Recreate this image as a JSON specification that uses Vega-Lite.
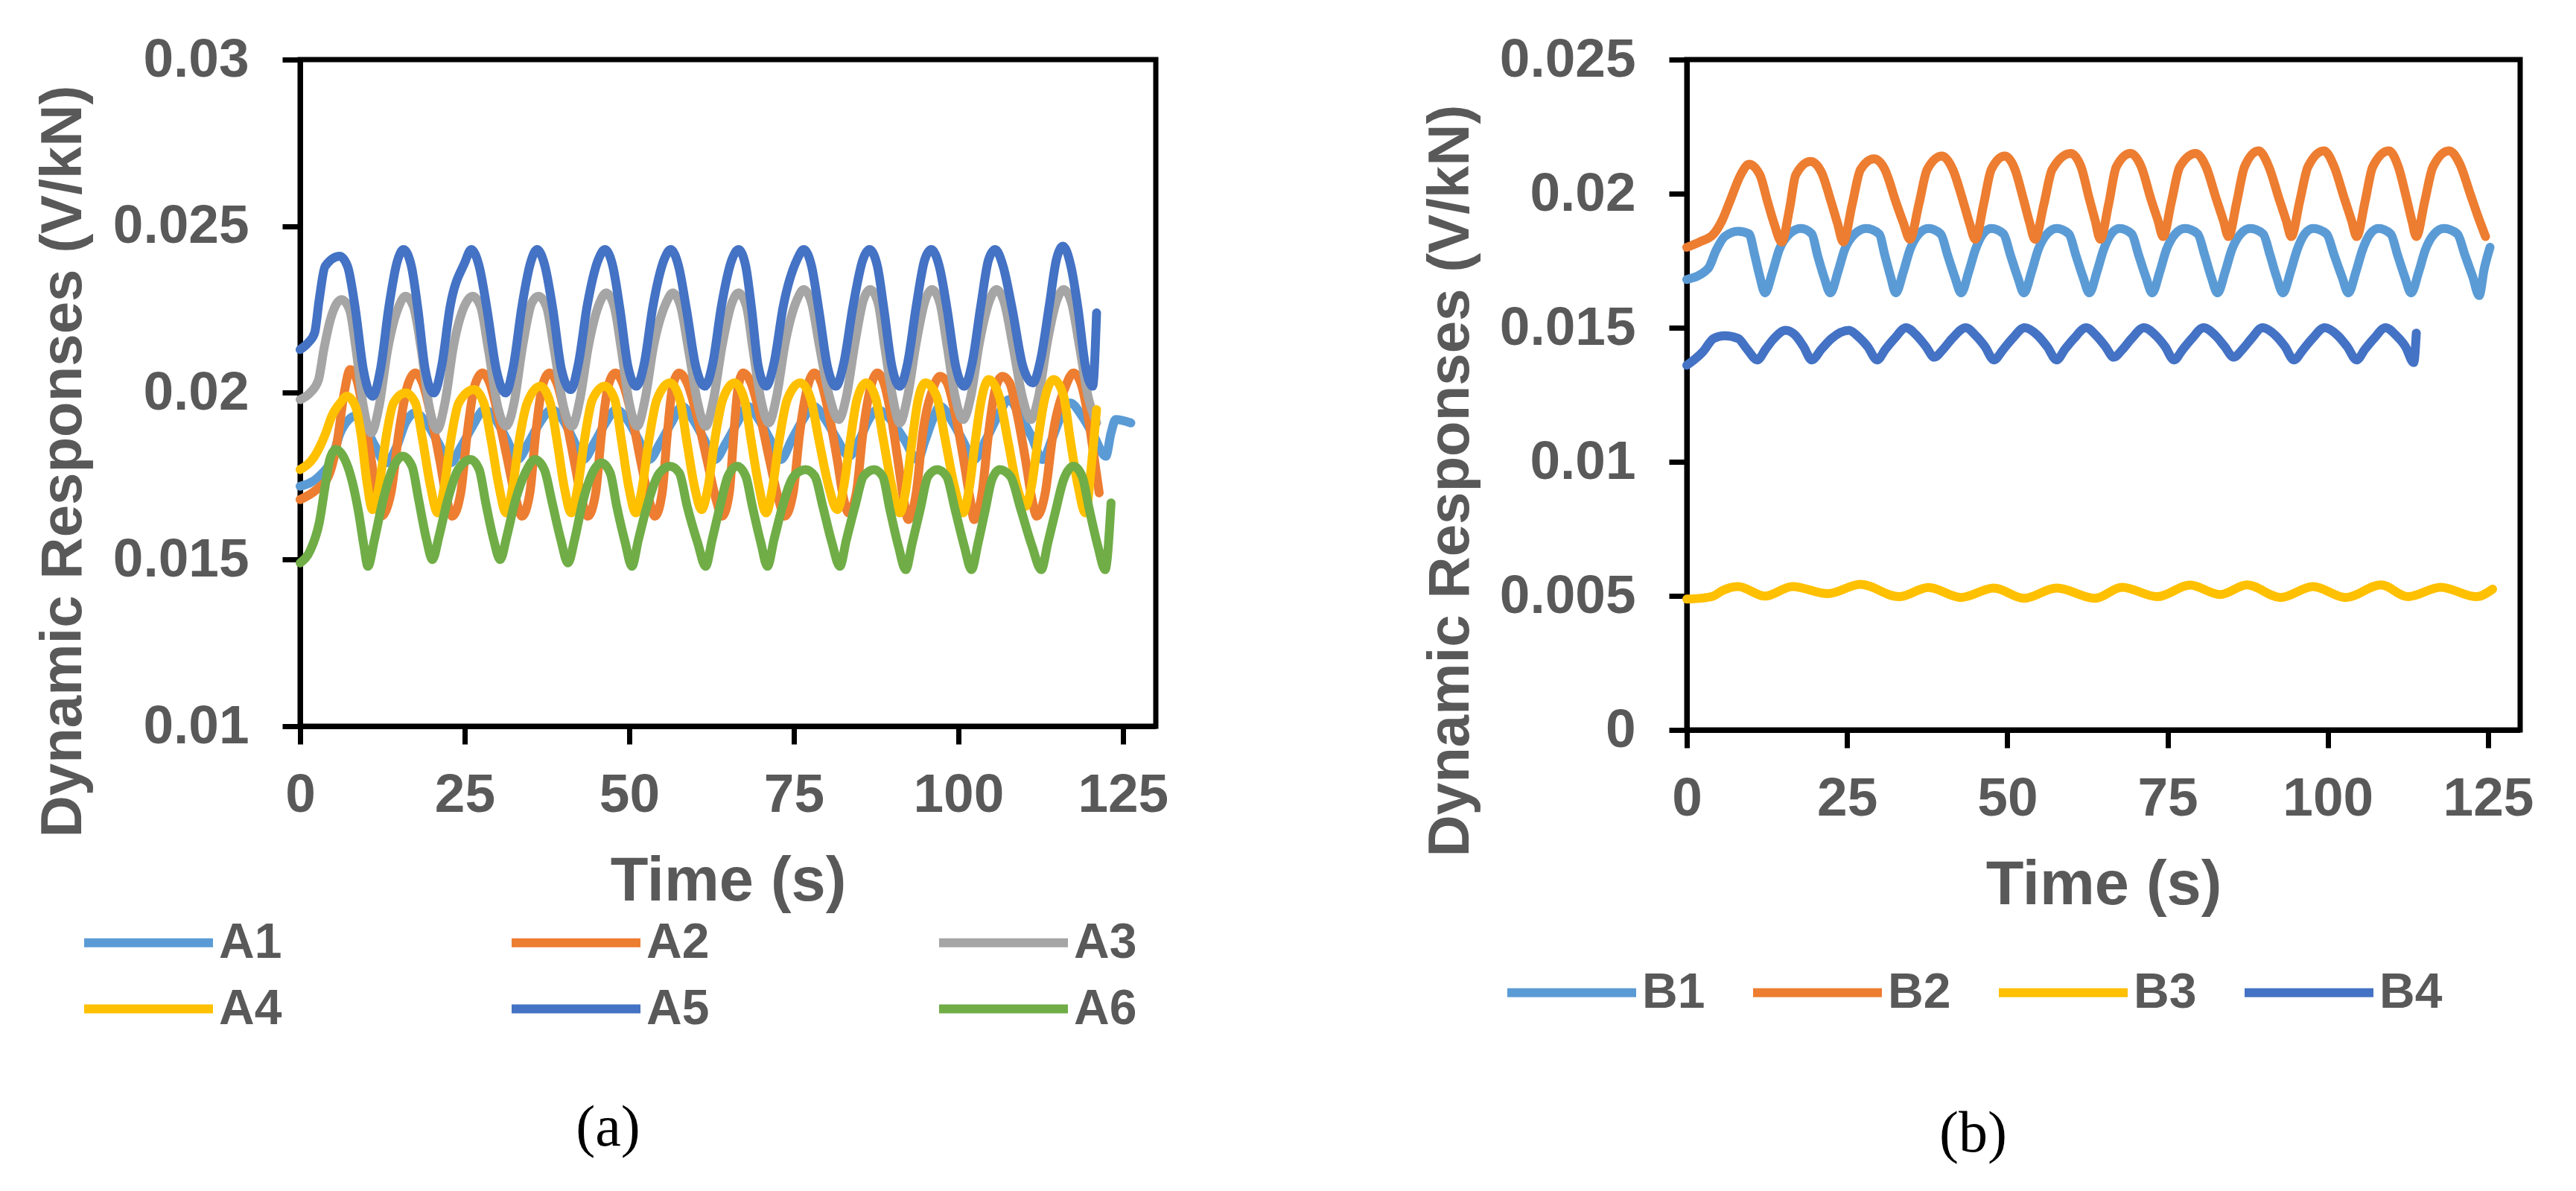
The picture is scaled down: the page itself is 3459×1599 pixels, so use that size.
{
  "$schema": "https://vega.github.io/schema/vega-lite/v6.json",
  "background": "white",
  "padding": {"left": 42, "top": 40, "right": 0, "bottom": 0},
  "spacing": 332,
  "datasets": {
    "A": [
      {"s":"A1","t":0,"v":0.0172},{"s":"A1","t":2.9,"v":0.0175},{"s":"A1","t":4.8,"v":0.0180},{"s":"A1","t":6.1,"v":0.0188},{"s":"A1","t":7.4,"v":0.0192},{"s":"A1","t":8.2,"v":0.0193},{"s":"A1","t":9.8,"v":0.0190},{"s":"A1","t":11.4,"v":0.0184},{"s":"A1","t":13.0,"v":0.0179},
      {"s":"A1","t":14.7,"v":0.0184},{"s":"A1","t":16.0,"v":0.0191},{"s":"A1","t":17.5,"v":0.0194},{"s":"A1","t":19.2,"v":0.0191},{"s":"A1","t":21.0,"v":0.0185},{"s":"A1","t":22.8,"v":0.0179},
      {"s":"A1","t":24.5,"v":0.0184},{"s":"A1","t":26.2,"v":0.0190},{"s":"A1","t":28.0,"v":0.0195},{"s":"A1","t":29.7,"v":0.0192},{"s":"A1","t":31.4,"v":0.0186},{"s":"A1","t":33.0,"v":0.0180},
      {"s":"A1","t":34.7,"v":0.0185},{"s":"A1","t":36.4,"v":0.0191},{"s":"A1","t":38.2,"v":0.0195},{"s":"A1","t":39.9,"v":0.0192},{"s":"A1","t":41.5,"v":0.0186},{"s":"A1","t":43.0,"v":0.0180},
      {"s":"A1","t":44.7,"v":0.0185},{"s":"A1","t":46.4,"v":0.0191},{"s":"A1","t":48.0,"v":0.0195},{"s":"A1","t":49.7,"v":0.0192},{"s":"A1","t":51.4,"v":0.0186},{"s":"A1","t":53.0,"v":0.0180},
      {"s":"A1","t":54.7,"v":0.0185},{"s":"A1","t":56.4,"v":0.0191},{"s":"A1","t":58.0,"v":0.0196},{"s":"A1","t":59.7,"v":0.0192},{"s":"A1","t":61.4,"v":0.0186},{"s":"A1","t":63.0,"v":0.0180},
      {"s":"A1","t":64.7,"v":0.0185},{"s":"A1","t":66.4,"v":0.0191},{"s":"A1","t":68.0,"v":0.0196},{"s":"A1","t":69.7,"v":0.0192},{"s":"A1","t":71.4,"v":0.0186},{"s":"A1","t":73.0,"v":0.0180},
      {"s":"A1","t":74.7,"v":0.0186},{"s":"A1","t":76.4,"v":0.0192},{"s":"A1","t":78.0,"v":0.0196},{"s":"A1","t":79.8,"v":0.0192},{"s":"A1","t":81.6,"v":0.0186},{"s":"A1","t":83.4,"v":0.0181},
      {"s":"A1","t":85.0,"v":0.0186},{"s":"A1","t":86.4,"v":0.0192},{"s":"A1","t":87.7,"v":0.0195},{"s":"A1","t":89.7,"v":0.0192},{"s":"A1","t":91.8,"v":0.0186},{"s":"A1","t":93.8,"v":0.0180},
      {"s":"A1","t":95.0,"v":0.0186},{"s":"A1","t":96.1,"v":0.0192},{"s":"A1","t":97.2,"v":0.0196},{"s":"A1","t":98.9,"v":0.0192},{"s":"A1","t":100.6,"v":0.0186},{"s":"A1","t":102.4,"v":0.0180},
      {"s":"A1","t":104.2,"v":0.0186},{"s":"A1","t":106.0,"v":0.0193},{"s":"A1","t":107.7,"v":0.0198},{"s":"A1","t":109.4,"v":0.0193},{"s":"A1","t":111.1,"v":0.0187},{"s":"A1","t":112.8,"v":0.0180},
      {"s":"A1","t":114.2,"v":0.0186},{"s":"A1","t":115.6,"v":0.0193},{"s":"A1","t":117.0,"v":0.0197},{"s":"A1","t":118.8,"v":0.0193},{"s":"A1","t":120.6,"v":0.0187},{"s":"A1","t":122.4,"v":0.0181},
      {"s":"A1","t":123.2,"v":0.0188},{"s":"A1","t":123.9,"v":0.0192},{"s":"A1","t":126.2,"v":0.0191},

      {"s":"A2","t":0,"v":0.0168},{"s":"A2","t":2.5,"v":0.0171},{"s":"A2","t":4.3,"v":0.0175},{"s":"A2","t":5.6,"v":0.0185},{"s":"A2","t":6.7,"v":0.0200},{"s":"A2","t":7.6,"v":0.0207},{"s":"A2","t":8.6,"v":0.0204},{"s":"A2","t":9.7,"v":0.0193},{"s":"A2","t":10.8,"v":0.0180},{"s":"A2","t":11.6,"v":0.0169},{"s":"A2","t":12.3,"v":0.0163},
      {"s":"A2","t":13.8,"v":0.0170},{"s":"A2","t":15.0,"v":0.0188},{"s":"A2","t":16.3,"v":0.0202},{"s":"A2","t":17.5,"v":0.0206},{"s":"A2","t":18.6,"v":0.0203},{"s":"A2","t":19.9,"v":0.0193},{"s":"A2","t":21.2,"v":0.0180},{"s":"A2","t":22.3,"v":0.0168},{"s":"A2","t":23.1,"v":0.0163},
      {"s":"A2","t":24.4,"v":0.0170},{"s":"A2","t":25.4,"v":0.0188},{"s":"A2","t":26.5,"v":0.0202},{"s":"A2","t":27.7,"v":0.0206},{"s":"A2","t":28.8,"v":0.0203},{"s":"A2","t":30.1,"v":0.0193},{"s":"A2","t":31.5,"v":0.0180},{"s":"A2","t":32.8,"v":0.0168},{"s":"A2","t":33.7,"v":0.0163},
      {"s":"A2","t":34.9,"v":0.0170},{"s":"A2","t":35.8,"v":0.0188},{"s":"A2","t":36.8,"v":0.0202},{"s":"A2","t":37.9,"v":0.0206},{"s":"A2","t":39.0,"v":0.0203},{"s":"A2","t":40.3,"v":0.0193},{"s":"A2","t":41.6,"v":0.0180},{"s":"A2","t":42.8,"v":0.0168},{"s":"A2","t":43.7,"v":0.0163},
      {"s":"A2","t":44.9,"v":0.0170},{"s":"A2","t":45.8,"v":0.0188},{"s":"A2","t":46.8,"v":0.0202},{"s":"A2","t":47.9,"v":0.0206},{"s":"A2","t":49.0,"v":0.0203},{"s":"A2","t":50.4,"v":0.0193},{"s":"A2","t":51.7,"v":0.0180},{"s":"A2","t":53.0,"v":0.0168},{"s":"A2","t":53.9,"v":0.0163},
      {"s":"A2","t":55.0,"v":0.0170},{"s":"A2","t":55.8,"v":0.0188},{"s":"A2","t":56.6,"v":0.0202},{"s":"A2","t":57.6,"v":0.0206},{"s":"A2","t":58.8,"v":0.0203},{"s":"A2","t":60.3,"v":0.0193},{"s":"A2","t":61.8,"v":0.0180},{"s":"A2","t":63.2,"v":0.0168},{"s":"A2","t":64.1,"v":0.0163},
      {"s":"A2","t":65.2,"v":0.0170},{"s":"A2","t":65.9,"v":0.0188},{"s":"A2","t":66.5,"v":0.0201},{"s":"A2","t":67.3,"v":0.0206},{"s":"A2","t":68.5,"v":0.0203},{"s":"A2","t":69.9,"v":0.0193},{"s":"A2","t":71.3,"v":0.0180},{"s":"A2","t":72.7,"v":0.0168},{"s":"A2","t":73.6,"v":0.0163},
      {"s":"A2","t":74.9,"v":0.0170},{"s":"A2","t":75.9,"v":0.0188},{"s":"A2","t":77.0,"v":0.0201},{"s":"A2","t":78.1,"v":0.0206},{"s":"A2","t":79.2,"v":0.0203},{"s":"A2","t":80.4,"v":0.0193},{"s":"A2","t":81.6,"v":0.0180},{"s":"A2","t":82.6,"v":0.0168},{"s":"A2","t":83.3,"v":0.0164},
      {"s":"A2","t":84.5,"v":0.0170},{"s":"A2","t":85.5,"v":0.0188},{"s":"A2","t":86.6,"v":0.0201},{"s":"A2","t":87.7,"v":0.0206},{"s":"A2","t":88.7,"v":0.0203},{"s":"A2","t":89.8,"v":0.0193},{"s":"A2","t":90.8,"v":0.0180},{"s":"A2","t":91.7,"v":0.0168},{"s":"A2","t":92.4,"v":0.0162},
      {"s":"A2","t":93.6,"v":0.0170},{"s":"A2","t":94.6,"v":0.0188},{"s":"A2","t":96.1,"v":0.0201},{"s":"A2","t":97.2,"v":0.0205},{"s":"A2","t":98.3,"v":0.0203},{"s":"A2","t":99.6,"v":0.0193},{"s":"A2","t":100.8,"v":0.0180},{"s":"A2","t":101.8,"v":0.0168},{"s":"A2","t":102.4,"v":0.0162},
      {"s":"A2","t":103.6,"v":0.0170},{"s":"A2","t":104.6,"v":0.0188},{"s":"A2","t":105.6,"v":0.0201},{"s":"A2","t":106.7,"v":0.0205},{"s":"A2","t":107.8,"v":0.0203},{"s":"A2","t":109.0,"v":0.0193},{"s":"A2","t":110.2,"v":0.0180},{"s":"A2","t":111.2,"v":0.0168},{"s":"A2","t":111.9,"v":0.0163},
      {"s":"A2","t":113.2,"v":0.0170},{"s":"A2","t":114.4,"v":0.0188},{"s":"A2","t":116.3,"v":0.0202},{"s":"A2","t":117.5,"v":0.0206},{"s":"A2","t":118.6,"v":0.0203},{"s":"A2","t":119.7,"v":0.0193},{"s":"A2","t":120.6,"v":0.0181},{"s":"A2","t":121.4,"v":0.0170},

      {"s":"A3","t":0,"v":0.0198},{"s":"A3","t":1.5,"v":0.0200},{"s":"A3","t":2.8,"v":0.0204},{"s":"A3","t":3.6,"v":0.0213},{"s":"A3","t":4.6,"v":0.0222},{"s":"A3","t":6.3,"v":0.0228},{"s":"A3","t":7.5,"v":0.0225},{"s":"A3","t":8.5,"v":0.0213},{"s":"A3","t":9.6,"v":0.0196},{"s":"A3","t":10.8,"v":0.0188},
      {"s":"A3","t":12.0,"v":0.0196},{"s":"A3","t":13.3,"v":0.0213},{"s":"A3","t":15.0,"v":0.0226},{"s":"A3","t":16.0,"v":0.0229},{"s":"A3","t":17.2,"v":0.0226},{"s":"A3","t":18.4,"v":0.0213},{"s":"A3","t":19.6,"v":0.0196},{"s":"A3","t":20.8,"v":0.0189},
      {"s":"A3","t":22.0,"v":0.0197},{"s":"A3","t":23.3,"v":0.0214},{"s":"A3","t":25.2,"v":0.0227},{"s":"A3","t":26.2,"v":0.0229},{"s":"A3","t":27.4,"v":0.0226},{"s":"A3","t":28.6,"v":0.0213},{"s":"A3","t":30.0,"v":0.0196},{"s":"A3","t":31.3,"v":0.0190},
      {"s":"A3","t":32.5,"v":0.0197},{"s":"A3","t":33.8,"v":0.0214},{"s":"A3","t":35.2,"v":0.0227},{"s":"A3","t":36.2,"v":0.0229},{"s":"A3","t":37.4,"v":0.0226},{"s":"A3","t":38.6,"v":0.0213},{"s":"A3","t":40.0,"v":0.0196},{"s":"A3","t":41.3,"v":0.0190},
      {"s":"A3","t":42.5,"v":0.0198},{"s":"A3","t":43.8,"v":0.0214},{"s":"A3","t":45.5,"v":0.0227},{"s":"A3","t":46.5,"v":0.0230},{"s":"A3","t":47.7,"v":0.0226},{"s":"A3","t":48.8,"v":0.0213},{"s":"A3","t":50.0,"v":0.0197},{"s":"A3","t":51.2,"v":0.0190},
      {"s":"A3","t":52.4,"v":0.0198},{"s":"A3","t":53.7,"v":0.0214},{"s":"A3","t":55.6,"v":0.0227},{"s":"A3","t":56.6,"v":0.0230},{"s":"A3","t":57.8,"v":0.0226},{"s":"A3","t":59.0,"v":0.0213},{"s":"A3","t":60.4,"v":0.0197},{"s":"A3","t":61.6,"v":0.0190},
      {"s":"A3","t":62.8,"v":0.0198},{"s":"A3","t":64.1,"v":0.0214},{"s":"A3","t":65.6,"v":0.0227},{"s":"A3","t":66.6,"v":0.0230},{"s":"A3","t":67.8,"v":0.0226},{"s":"A3","t":68.8,"v":0.0213},{"s":"A3","t":70.0,"v":0.0198},{"s":"A3","t":71.2,"v":0.0191},
      {"s":"A3","t":72.4,"v":0.0199},{"s":"A3","t":73.7,"v":0.0215},{"s":"A3","t":75.5,"v":0.0228},{"s":"A3","t":76.5,"v":0.0231},{"s":"A3","t":77.7,"v":0.0227},{"s":"A3","t":78.9,"v":0.0214},{"s":"A3","t":80.4,"v":0.0199},{"s":"A3","t":81.8,"v":0.0192},
      {"s":"A3","t":83.0,"v":0.0199},{"s":"A3","t":84.3,"v":0.0215},{"s":"A3","t":85.6,"v":0.0228},{"s":"A3","t":86.6,"v":0.0231},{"s":"A3","t":87.8,"v":0.0227},{"s":"A3","t":88.8,"v":0.0214},{"s":"A3","t":90.0,"v":0.0199},{"s":"A3","t":91.1,"v":0.0191},
      {"s":"A3","t":92.3,"v":0.0199},{"s":"A3","t":93.6,"v":0.0215},{"s":"A3","t":95.0,"v":0.0228},{"s":"A3","t":96.0,"v":0.0231},{"s":"A3","t":97.2,"v":0.0227},{"s":"A3","t":98.3,"v":0.0214},{"s":"A3","t":99.5,"v":0.0199},{"s":"A3","t":100.7,"v":0.0192},
      {"s":"A3","t":101.9,"v":0.0199},{"s":"A3","t":103.2,"v":0.0215},{"s":"A3","t":104.8,"v":0.0228},{"s":"A3","t":105.8,"v":0.0231},{"s":"A3","t":107.0,"v":0.0227},{"s":"A3","t":108.3,"v":0.0214},{"s":"A3","t":109.7,"v":0.0199},{"s":"A3","t":111.0,"v":0.0192},
      {"s":"A3","t":112.2,"v":0.0199},{"s":"A3","t":113.5,"v":0.0215},{"s":"A3","t":115.0,"v":0.0228},{"s":"A3","t":116.0,"v":0.0231},{"s":"A3","t":117.2,"v":0.0227},{"s":"A3","t":118.4,"v":0.0214},{"s":"A3","t":119.7,"v":0.0199},{"s":"A3","t":121.0,"v":0.0191},

      {"s":"A4","t":0,"v":0.0177},{"s":"A4","t":2.2,"v":0.0181},{"s":"A4","t":3.9,"v":0.0188},{"s":"A4","t":4.8,"v":0.0193},{"s":"A4","t":6.1,"v":0.0197},{"s":"A4","t":7.1,"v":0.0199},{"s":"A4","t":8.4,"v":0.0196},{"s":"A4","t":9.3,"v":0.0187},{"s":"A4","t":10.1,"v":0.0174},{"s":"A4","t":11.0,"v":0.0165},
      {"s":"A4","t":12.0,"v":0.0172},{"s":"A4","t":13.0,"v":0.0186},{"s":"A4","t":14.2,"v":0.0197},{"s":"A4","t":16.0,"v":0.0200},{"s":"A4","t":17.5,"v":0.0197},{"s":"A4","t":18.6,"v":0.0186},{"s":"A4","t":19.8,"v":0.0172},{"s":"A4","t":20.9,"v":0.0164},
      {"s":"A4","t":21.9,"v":0.0172},{"s":"A4","t":22.9,"v":0.0186},{"s":"A4","t":24.1,"v":0.0197},{"s":"A4","t":26.4,"v":0.0201},{"s":"A4","t":27.9,"v":0.0197},{"s":"A4","t":29.0,"v":0.0186},{"s":"A4","t":30.2,"v":0.0172},{"s":"A4","t":31.3,"v":0.0164},
      {"s":"A4","t":32.3,"v":0.0172},{"s":"A4","t":33.3,"v":0.0186},{"s":"A4","t":34.5,"v":0.0197},{"s":"A4","t":36.5,"v":0.0202},{"s":"A4","t":38.0,"v":0.0197},{"s":"A4","t":39.0,"v":0.0186},{"s":"A4","t":40.1,"v":0.0172},{"s":"A4","t":41.2,"v":0.0164},
      {"s":"A4","t":42.2,"v":0.0172},{"s":"A4","t":43.2,"v":0.0186},{"s":"A4","t":44.4,"v":0.0198},{"s":"A4","t":46.3,"v":0.0202},{"s":"A4","t":47.8,"v":0.0198},{"s":"A4","t":48.8,"v":0.0186},{"s":"A4","t":49.9,"v":0.0172},{"s":"A4","t":51.0,"v":0.0164},
      {"s":"A4","t":52.0,"v":0.0172},{"s":"A4","t":53.0,"v":0.0186},{"s":"A4","t":54.2,"v":0.0198},{"s":"A4","t":56.2,"v":0.0203},{"s":"A4","t":57.7,"v":0.0198},{"s":"A4","t":58.7,"v":0.0186},{"s":"A4","t":59.9,"v":0.0172},{"s":"A4","t":61.0,"v":0.0165},
      {"s":"A4","t":62.0,"v":0.0172},{"s":"A4","t":63.0,"v":0.0186},{"s":"A4","t":64.2,"v":0.0198},{"s":"A4","t":66.0,"v":0.0203},{"s":"A4","t":67.5,"v":0.0198},{"s":"A4","t":68.5,"v":0.0186},{"s":"A4","t":69.7,"v":0.0172},{"s":"A4","t":70.8,"v":0.0164},
      {"s":"A4","t":71.8,"v":0.0172},{"s":"A4","t":72.8,"v":0.0186},{"s":"A4","t":74.0,"v":0.0198},{"s":"A4","t":76.0,"v":0.0203},{"s":"A4","t":77.6,"v":0.0198},{"s":"A4","t":78.8,"v":0.0186},{"s":"A4","t":80.3,"v":0.0172},{"s":"A4","t":81.6,"v":0.0165},
      {"s":"A4","t":82.6,"v":0.0172},{"s":"A4","t":83.6,"v":0.0186},{"s":"A4","t":84.6,"v":0.0198},{"s":"A4","t":86.0,"v":0.0203},{"s":"A4","t":87.5,"v":0.0198},{"s":"A4","t":88.6,"v":0.0186},{"s":"A4","t":89.9,"v":0.0172},{"s":"A4","t":91.1,"v":0.0164},
      {"s":"A4","t":92.1,"v":0.0172},{"s":"A4","t":93.0,"v":0.0186},{"s":"A4","t":93.9,"v":0.0198},{"s":"A4","t":95.0,"v":0.0203},{"s":"A4","t":96.7,"v":0.0199},{"s":"A4","t":98.0,"v":0.0186},{"s":"A4","t":99.4,"v":0.0172},{"s":"A4","t":100.7,"v":0.0164},
      {"s":"A4","t":101.7,"v":0.0172},{"s":"A4","t":102.6,"v":0.0186},{"s":"A4","t":103.5,"v":0.0198},{"s":"A4","t":104.6,"v":0.0204},{"s":"A4","t":106.2,"v":0.0199},{"s":"A4","t":107.5,"v":0.0186},{"s":"A4","t":108.9,"v":0.0172},{"s":"A4","t":110.2,"v":0.0166},
      {"s":"A4","t":111.2,"v":0.0173},{"s":"A4","t":112.1,"v":0.0186},{"s":"A4","t":113.1,"v":0.0198},{"s":"A4","t":114.5,"v":0.0204},{"s":"A4","t":116.0,"v":0.0199},{"s":"A4","t":117.0,"v":0.0186},{"s":"A4","t":118.2,"v":0.0172},{"s":"A4","t":119.3,"v":0.0164},
      {"s":"A4","t":120.3,"v":0.0180},{"s":"A4","t":121.0,"v":0.0195},

      {"s":"A5","t":0,"v":0.0213},{"s":"A5","t":1.2,"v":0.0215},{"s":"A5","t":2.2,"v":0.0218},{"s":"A5","t":2.9,"v":0.0228},{"s":"A5","t":3.8,"v":0.0238},{"s":"A5","t":6.0,"v":0.0241},{"s":"A5","t":7.2,"v":0.0238},{"s":"A5","t":8.4,"v":0.0225},{"s":"A5","t":9.6,"v":0.0207},{"s":"A5","t":11.0,"v":0.0199},
      {"s":"A5","t":12.2,"v":0.0207},{"s":"A5","t":13.5,"v":0.0226},{"s":"A5","t":14.7,"v":0.0239},{"s":"A5","t":15.7,"v":0.0243},{"s":"A5","t":16.9,"v":0.0238},{"s":"A5","t":17.9,"v":0.0225},{"s":"A5","t":19.0,"v":0.0207},{"s":"A5","t":20.3,"v":0.0200},
      {"s":"A5","t":21.5,"v":0.0208},{"s":"A5","t":22.8,"v":0.0226},{"s":"A5","t":25.0,"v":0.0239},{"s":"A5","t":26.0,"v":0.0243},{"s":"A5","t":27.2,"v":0.0238},{"s":"A5","t":28.4,"v":0.0225},{"s":"A5","t":29.8,"v":0.0207},{"s":"A5","t":31.2,"v":0.0200},
      {"s":"A5","t":32.4,"v":0.0208},{"s":"A5","t":33.7,"v":0.0226},{"s":"A5","t":35.0,"v":0.0239},{"s":"A5","t":36.0,"v":0.0243},{"s":"A5","t":37.2,"v":0.0238},{"s":"A5","t":38.4,"v":0.0225},{"s":"A5","t":39.7,"v":0.0207},{"s":"A5","t":41.1,"v":0.0201},
      {"s":"A5","t":42.3,"v":0.0209},{"s":"A5","t":43.6,"v":0.0226},{"s":"A5","t":45.3,"v":0.0240},{"s":"A5","t":46.3,"v":0.0243},{"s":"A5","t":47.5,"v":0.0238},{"s":"A5","t":48.6,"v":0.0225},{"s":"A5","t":49.8,"v":0.0208},{"s":"A5","t":51.1,"v":0.0202},
      {"s":"A5","t":52.3,"v":0.0209},{"s":"A5","t":53.6,"v":0.0226},{"s":"A5","t":55.3,"v":0.0240},{"s":"A5","t":56.3,"v":0.0243},{"s":"A5","t":57.5,"v":0.0238},{"s":"A5","t":58.7,"v":0.0225},{"s":"A5","t":60.1,"v":0.0208},{"s":"A5","t":61.5,"v":0.0202},
      {"s":"A5","t":62.7,"v":0.0209},{"s":"A5","t":64.0,"v":0.0226},{"s":"A5","t":65.6,"v":0.0240},{"s":"A5","t":66.6,"v":0.0243},{"s":"A5","t":67.7,"v":0.0238},{"s":"A5","t":68.6,"v":0.0225},{"s":"A5","t":69.6,"v":0.0208},{"s":"A5","t":70.8,"v":0.0202},
      {"s":"A5","t":72.0,"v":0.0209},{"s":"A5","t":73.4,"v":0.0226},{"s":"A5","t":75.5,"v":0.0240},{"s":"A5","t":76.5,"v":0.0243},{"s":"A5","t":77.7,"v":0.0238},{"s":"A5","t":78.8,"v":0.0225},{"s":"A5","t":80.1,"v":0.0208},{"s":"A5","t":81.4,"v":0.0202},
      {"s":"A5","t":82.6,"v":0.0209},{"s":"A5","t":84.0,"v":0.0226},{"s":"A5","t":85.5,"v":0.0240},{"s":"A5","t":86.5,"v":0.0243},{"s":"A5","t":87.7,"v":0.0238},{"s":"A5","t":88.7,"v":0.0225},{"s":"A5","t":89.9,"v":0.0208},{"s":"A5","t":91.1,"v":0.0202},
      {"s":"A5","t":92.3,"v":0.0209},{"s":"A5","t":93.6,"v":0.0226},{"s":"A5","t":94.9,"v":0.0240},{"s":"A5","t":95.9,"v":0.0243},{"s":"A5","t":97.1,"v":0.0238},{"s":"A5","t":98.3,"v":0.0225},{"s":"A5","t":99.6,"v":0.0208},{"s":"A5","t":100.9,"v":0.0202},
      {"s":"A5","t":102.1,"v":0.0209},{"s":"A5","t":103.4,"v":0.0226},{"s":"A5","t":104.6,"v":0.0240},{"s":"A5","t":105.6,"v":0.0243},{"s":"A5","t":106.8,"v":0.0238},{"s":"A5","t":108.2,"v":0.0225},{"s":"A5","t":109.8,"v":0.0208},{"s":"A5","t":111.3,"v":0.0203},
      {"s":"A5","t":112.5,"v":0.0210},{"s":"A5","t":113.8,"v":0.0226},{"s":"A5","t":114.9,"v":0.0240},{"s":"A5","t":115.9,"v":0.0244},{"s":"A5","t":117.1,"v":0.0238},{"s":"A5","t":118.2,"v":0.0225},{"s":"A5","t":119.3,"v":0.0208},{"s":"A5","t":120.4,"v":0.0202},
      {"s":"A5","t":121.0,"v":0.0224},

      {"s":"A6","t":0,"v":0.0149},{"s":"A6","t":1.6,"v":0.0153},{"s":"A6","t":2.9,"v":0.0161},{"s":"A6","t":3.8,"v":0.0172},{"s":"A6","t":4.5,"v":0.0180},{"s":"A6","t":5.4,"v":0.0183},{"s":"A6","t":6.8,"v":0.0180},{"s":"A6","t":7.7,"v":0.0175},{"s":"A6","t":8.9,"v":0.0164},{"s":"A6","t":9.7,"v":0.0154},{"s":"A6","t":10.3,"v":0.0148},
      {"s":"A6","t":11.3,"v":0.0156},{"s":"A6","t":12.5,"v":0.0167},{"s":"A6","t":14.0,"v":0.0177},{"s":"A6","t":15.6,"v":0.0181},{"s":"A6","t":17.0,"v":0.0178},{"s":"A6","t":18.0,"v":0.0168},{"s":"A6","t":19.2,"v":0.0156},{"s":"A6","t":20.1,"v":0.0150},
      {"s":"A6","t":21.1,"v":0.0157},{"s":"A6","t":22.3,"v":0.0167},{"s":"A6","t":24.0,"v":0.0177},{"s":"A6","t":25.9,"v":0.0180},{"s":"A6","t":27.2,"v":0.0177},{"s":"A6","t":28.2,"v":0.0167},{"s":"A6","t":29.4,"v":0.0156},{"s":"A6","t":30.4,"v":0.0150},
      {"s":"A6","t":31.4,"v":0.0157},{"s":"A6","t":32.6,"v":0.0167},{"s":"A6","t":34.2,"v":0.0176},{"s":"A6","t":35.7,"v":0.0180},{"s":"A6","t":37.1,"v":0.0177},{"s":"A6","t":38.3,"v":0.0167},{"s":"A6","t":39.6,"v":0.0156},{"s":"A6","t":40.7,"v":0.0149},
      {"s":"A6","t":41.7,"v":0.0156},{"s":"A6","t":42.9,"v":0.0167},{"s":"A6","t":44.4,"v":0.0176},{"s":"A6","t":45.8,"v":0.0179},{"s":"A6","t":47.1,"v":0.0176},{"s":"A6","t":48.1,"v":0.0166},{"s":"A6","t":49.4,"v":0.0155},{"s":"A6","t":50.4,"v":0.0148},
      {"s":"A6","t":51.4,"v":0.0156},{"s":"A6","t":52.7,"v":0.0166},{"s":"A6","t":54.6,"v":0.0176},{"s":"A6","t":56.2,"v":0.0178},{"s":"A6","t":57.6,"v":0.0176},{"s":"A6","t":58.8,"v":0.0166},{"s":"A6","t":60.4,"v":0.0155},{"s":"A6","t":61.6,"v":0.0148},
      {"s":"A6","t":62.6,"v":0.0156},{"s":"A6","t":63.8,"v":0.0166},{"s":"A6","t":65.0,"v":0.0175},{"s":"A6","t":66.4,"v":0.0178},{"s":"A6","t":67.7,"v":0.0175},{"s":"A6","t":68.7,"v":0.0166},{"s":"A6","t":70.0,"v":0.0155},{"s":"A6","t":71.0,"v":0.0148},
      {"s":"A6","t":72.0,"v":0.0156},{"s":"A6","t":73.3,"v":0.0166},{"s":"A6","t":75.0,"v":0.0175},{"s":"A6","t":76.8,"v":0.0177},{"s":"A6","t":78.2,"v":0.0175},{"s":"A6","t":79.4,"v":0.0166},{"s":"A6","t":80.8,"v":0.0155},{"s":"A6","t":82.0,"v":0.0148},
      {"s":"A6","t":83.0,"v":0.0156},{"s":"A6","t":84.3,"v":0.0166},{"s":"A6","t":85.6,"v":0.0175},{"s":"A6","t":87.2,"v":0.0177},{"s":"A6","t":88.5,"v":0.0175},{"s":"A6","t":89.6,"v":0.0165},{"s":"A6","t":90.9,"v":0.0154},{"s":"A6","t":92.0,"v":0.0147},
      {"s":"A6","t":93.0,"v":0.0155},{"s":"A6","t":94.2,"v":0.0165},{"s":"A6","t":95.4,"v":0.0175},{"s":"A6","t":96.8,"v":0.0177},{"s":"A6","t":98.2,"v":0.0175},{"s":"A6","t":99.5,"v":0.0165},{"s":"A6","t":100.9,"v":0.0154},{"s":"A6","t":102.0,"v":0.0147},
      {"s":"A6","t":103.0,"v":0.0155},{"s":"A6","t":104.1,"v":0.0165},{"s":"A6","t":105.1,"v":0.0174},{"s":"A6","t":106.3,"v":0.0177},{"s":"A6","t":107.9,"v":0.0175},{"s":"A6","t":109.5,"v":0.0165},{"s":"A6","t":111.2,"v":0.0154},{"s":"A6","t":112.6,"v":0.0147},
      {"s":"A6","t":113.6,"v":0.0155},{"s":"A6","t":114.7,"v":0.0164},{"s":"A6","t":116.0,"v":0.0174},{"s":"A6","t":117.5,"v":0.0178},{"s":"A6","t":118.8,"v":0.0175},{"s":"A6","t":119.9,"v":0.0165},{"s":"A6","t":121.2,"v":0.0154},{"s":"A6","t":122.3,"v":0.0147},
      {"s":"A6","t":123.2,"v":0.0167}
    ],
    "B": [
      {"s":"B1","t":0,"v":0.0168},{"s":"B1","t":3.3,"v":0.0172},{"s":"B1","t":4.6,"v":0.0179},{"s":"B1","t":5.9,"v":0.0184},{"s":"B1","t":8.0,"v":0.0186},{"s":"B1","t":9.7,"v":0.0185},{"s":"B1","t":10.6,"v":0.0177},{"s":"B1","t":11.4,"v":0.0169},{"s":"B1","t":12.2,"v":0.0163},
      {"s":"B1","t":13.4,"v":0.0171},{"s":"B1","t":14.4,"v":0.0179},{"s":"B1","t":16.0,"v":0.0185},{"s":"B1","t":17.8,"v":0.0187},{"s":"B1","t":19.5,"v":0.0185},{"s":"B1","t":20.4,"v":0.0177},{"s":"B1","t":21.4,"v":0.0169},{"s":"B1","t":22.4,"v":0.0163},
      {"s":"B1","t":23.6,"v":0.0171},{"s":"B1","t":24.6,"v":0.0179},{"s":"B1","t":26.2,"v":0.0185},{"s":"B1","t":28.0,"v":0.0187},{"s":"B1","t":30.0,"v":0.0185},{"s":"B1","t":30.9,"v":0.0177},{"s":"B1","t":31.8,"v":0.0169},{"s":"B1","t":32.6,"v":0.0163},
      {"s":"B1","t":33.8,"v":0.0171},{"s":"B1","t":34.8,"v":0.0179},{"s":"B1","t":36.2,"v":0.0185},{"s":"B1","t":37.7,"v":0.0187},{"s":"B1","t":39.6,"v":0.0185},{"s":"B1","t":40.7,"v":0.0177},{"s":"B1","t":41.8,"v":0.0169},{"s":"B1","t":42.8,"v":0.0163},
      {"s":"B1","t":44.0,"v":0.0171},{"s":"B1","t":45.0,"v":0.0179},{"s":"B1","t":46.2,"v":0.0185},{"s":"B1","t":47.5,"v":0.0187},{"s":"B1","t":49.4,"v":0.0185},{"s":"B1","t":50.5,"v":0.0177},{"s":"B1","t":51.6,"v":0.0169},{"s":"B1","t":52.6,"v":0.0163},
      {"s":"B1","t":53.8,"v":0.0171},{"s":"B1","t":54.8,"v":0.0179},{"s":"B1","t":56.2,"v":0.0185},{"s":"B1","t":57.7,"v":0.0187},{"s":"B1","t":59.6,"v":0.0185},{"s":"B1","t":60.7,"v":0.0177},{"s":"B1","t":61.8,"v":0.0169},{"s":"B1","t":62.8,"v":0.0163},
      {"s":"B1","t":64.0,"v":0.0171},{"s":"B1","t":65.0,"v":0.0179},{"s":"B1","t":66.2,"v":0.0185},{"s":"B1","t":67.5,"v":0.0187},{"s":"B1","t":69.4,"v":0.0185},{"s":"B1","t":70.5,"v":0.0177},{"s":"B1","t":71.6,"v":0.0169},{"s":"B1","t":72.6,"v":0.0163},
      {"s":"B1","t":73.8,"v":0.0171},{"s":"B1","t":74.8,"v":0.0179},{"s":"B1","t":76.2,"v":0.0185},{"s":"B1","t":77.7,"v":0.0187},{"s":"B1","t":79.7,"v":0.0185},{"s":"B1","t":80.8,"v":0.0177},{"s":"B1","t":81.8,"v":0.0169},{"s":"B1","t":82.8,"v":0.0163},
      {"s":"B1","t":84.0,"v":0.0171},{"s":"B1","t":85.0,"v":0.0179},{"s":"B1","t":86.4,"v":0.0185},{"s":"B1","t":87.9,"v":0.0187},{"s":"B1","t":89.9,"v":0.0185},{"s":"B1","t":91.0,"v":0.0177},{"s":"B1","t":92.0,"v":0.0169},{"s":"B1","t":93.0,"v":0.0163},
      {"s":"B1","t":94.2,"v":0.0171},{"s":"B1","t":95.2,"v":0.0179},{"s":"B1","t":96.4,"v":0.0185},{"s":"B1","t":97.7,"v":0.0187},{"s":"B1","t":99.8,"v":0.0185},{"s":"B1","t":101.0,"v":0.0177},{"s":"B1","t":102.2,"v":0.0169},{"s":"B1","t":103.2,"v":0.0163},
      {"s":"B1","t":104.4,"v":0.0171},{"s":"B1","t":105.4,"v":0.0179},{"s":"B1","t":106.6,"v":0.0185},{"s":"B1","t":107.9,"v":0.0187},{"s":"B1","t":109.8,"v":0.0185},{"s":"B1","t":110.9,"v":0.0177},{"s":"B1","t":112.0,"v":0.0169},{"s":"B1","t":113.0,"v":0.0163},
      {"s":"B1","t":114.2,"v":0.0171},{"s":"B1","t":115.2,"v":0.0179},{"s":"B1","t":116.6,"v":0.0185},{"s":"B1","t":118.1,"v":0.0187},{"s":"B1","t":120.2,"v":0.0185},{"s":"B1","t":121.4,"v":0.0177},{"s":"B1","t":122.6,"v":0.0169},{"s":"B1","t":123.6,"v":0.0162},
      {"s":"B1","t":124.4,"v":0.0172},{"s":"B1","t":125.3,"v":0.0180},

      {"s":"B2","t":0,"v":0.0180},{"s":"B2","t":2.0,"v":0.0182},{"s":"B2","t":4.2,"v":0.0185},{"s":"B2","t":5.5,"v":0.0190},{"s":"B2","t":6.7,"v":0.0197},{"s":"B2","t":8.4,"v":0.0207},{"s":"B2","t":9.7,"v":0.0211},{"s":"B2","t":11.4,"v":0.0207},{"s":"B2","t":12.6,"v":0.0197},{"s":"B2","t":13.6,"v":0.0189},{"s":"B2","t":14.8,"v":0.0182},
      {"s":"B2","t":16.0,"v":0.0194},{"s":"B2","t":17.0,"v":0.0207},{"s":"B2","t":19.3,"v":0.0212},{"s":"B2","t":21.0,"v":0.0208},{"s":"B2","t":22.5,"v":0.0197},{"s":"B2","t":23.5,"v":0.0189},{"s":"B2","t":24.4,"v":0.0182},
      {"s":"B2","t":25.8,"v":0.0196},{"s":"B2","t":27.1,"v":0.0209},{"s":"B2","t":29.2,"v":0.0213},{"s":"B2","t":30.9,"v":0.0209},{"s":"B2","t":32.6,"v":0.0197},{"s":"B2","t":33.8,"v":0.0189},{"s":"B2","t":34.8,"v":0.0183},
      {"s":"B2","t":36.2,"v":0.0196},{"s":"B2","t":37.5,"v":0.0209},{"s":"B2","t":39.8,"v":0.0214},{"s":"B2","t":41.5,"v":0.0209},{"s":"B2","t":43.0,"v":0.0198},{"s":"B2","t":44.1,"v":0.0189},{"s":"B2","t":45.0,"v":0.0183},
      {"s":"B2","t":46.3,"v":0.0196},{"s":"B2","t":47.5,"v":0.0209},{"s":"B2","t":49.6,"v":0.0214},{"s":"B2","t":51.2,"v":0.0209},{"s":"B2","t":52.5,"v":0.0198},{"s":"B2","t":53.5,"v":0.0189},{"s":"B2","t":54.3,"v":0.0183},
      {"s":"B2","t":55.7,"v":0.0196},{"s":"B2","t":57.0,"v":0.0209},{"s":"B2","t":59.9,"v":0.0215},{"s":"B2","t":61.5,"v":0.0210},{"s":"B2","t":62.8,"v":0.0198},{"s":"B2","t":63.7,"v":0.0190},{"s":"B2","t":64.5,"v":0.0183},
      {"s":"B2","t":65.8,"v":0.0196},{"s":"B2","t":67.0,"v":0.0210},{"s":"B2","t":69.2,"v":0.0215},{"s":"B2","t":70.9,"v":0.0210},{"s":"B2","t":72.4,"v":0.0198},{"s":"B2","t":73.5,"v":0.0190},{"s":"B2","t":74.3,"v":0.0184},
      {"s":"B2","t":75.6,"v":0.0197},{"s":"B2","t":76.9,"v":0.0210},{"s":"B2","t":79.4,"v":0.0215},{"s":"B2","t":81.0,"v":0.0210},{"s":"B2","t":82.6,"v":0.0198},{"s":"B2","t":83.7,"v":0.0190},{"s":"B2","t":84.5,"v":0.0184},
      {"s":"B2","t":85.8,"v":0.0197},{"s":"B2","t":87.0,"v":0.0210},{"s":"B2","t":89.2,"v":0.0216},{"s":"B2","t":90.8,"v":0.0210},{"s":"B2","t":92.4,"v":0.0198},{"s":"B2","t":93.5,"v":0.0190},{"s":"B2","t":94.3,"v":0.0184},
      {"s":"B2","t":95.6,"v":0.0197},{"s":"B2","t":96.9,"v":0.0210},{"s":"B2","t":99.4,"v":0.0216},{"s":"B2","t":101.0,"v":0.0210},{"s":"B2","t":102.6,"v":0.0198},{"s":"B2","t":103.7,"v":0.0190},{"s":"B2","t":104.5,"v":0.0184},
      {"s":"B2","t":105.8,"v":0.0197},{"s":"B2","t":107.0,"v":0.0210},{"s":"B2","t":109.5,"v":0.0216},{"s":"B2","t":111.0,"v":0.0210},{"s":"B2","t":112.2,"v":0.0199},{"s":"B2","t":113.1,"v":0.0190},{"s":"B2","t":113.8,"v":0.0184},
      {"s":"B2","t":115.1,"v":0.0197},{"s":"B2","t":116.4,"v":0.0210},{"s":"B2","t":118.9,"v":0.0216},{"s":"B2","t":120.6,"v":0.0211},{"s":"B2","t":122.2,"v":0.0200},{"s":"B2","t":123.5,"v":0.0191},{"s":"B2","t":124.6,"v":0.0184},

      {"s":"B3","t":0,"v":0.00488},{"s":"B3","t":2.5,"v":0.00492},{"s":"B3","t":4.2,"v":0.00500},{"s":"B3","t":5.5,"v":0.00519},{"s":"B3","t":8.0,"v":0.00535},{"s":"B3","t":12.2,"v":0.00499},{"s":"B3","t":16.5,"v":0.00535},{"s":"B3","t":22.0,"v":0.00508},{"s":"B3","t":27.1,"v":0.00543},{"s":"B3","t":33.1,"v":0.00497},{"s":"B3","t":37.7,"v":0.00531},{"s":"B3","t":42.8,"v":0.00494},{"s":"B3","t":47.9,"v":0.00529},{"s":"B3","t":52.6,"v":0.00491},{"s":"B3","t":57.7,"v":0.00529},{"s":"B3","t":63.7,"v":0.00491},{"s":"B3","t":67.9,"v":0.00532},{"s":"B3","t":73.4,"v":0.00497},{"s":"B3","t":78.5,"v":0.00540},{"s":"B3","t":83.2,"v":0.00505},{"s":"B3","t":87.4,"v":0.00541},{"s":"B3","t":92.6,"v":0.00494},{"s":"B3","t":97.7,"v":0.00535},{"s":"B3","t":102.8,"v":0.00494},{"s":"B3","t":108.3,"v":0.00541},{"s":"B3","t":112.5,"v":0.00497},{"s":"B3","t":117.6,"v":0.00532},{"s":"B3","t":123.2,"v":0.00497},{"s":"B3","t":125.7,"v":0.00525},

      {"s":"B4","t":0,"v":0.0136},{"s":"B4","t":2.5,"v":0.0141},{"s":"B4","t":4.2,"v":0.0146},{"s":"B4","t":5.9,"v":0.0147},{"s":"B4","t":8.0,"v":0.0146},{"s":"B4","t":9.4,"v":0.0142},{"s":"B4","t":11.0,"v":0.0138},
      {"s":"B4","t":12.3,"v":0.0142},{"s":"B4","t":13.6,"v":0.0146},{"s":"B4","t":15.4,"v":0.0149},{"s":"B4","t":17.0,"v":0.0147},{"s":"B4","t":18.2,"v":0.0143},{"s":"B4","t":19.5,"v":0.0138},
      {"s":"B4","t":21.0,"v":0.0142},{"s":"B4","t":22.6,"v":0.0146},{"s":"B4","t":25.3,"v":0.0149},{"s":"B4","t":26.6,"v":0.0147},{"s":"B4","t":28.2,"v":0.0143},{"s":"B4","t":29.7,"v":0.0138},
      {"s":"B4","t":31.0,"v":0.0142},{"s":"B4","t":32.4,"v":0.0146},{"s":"B4","t":34.2,"v":0.0150},{"s":"B4","t":35.9,"v":0.0147},{"s":"B4","t":37.3,"v":0.0143},{"s":"B4","t":38.6,"v":0.0139},
      {"s":"B4","t":40.0,"v":0.0142},{"s":"B4","t":41.4,"v":0.0146},{"s":"B4","t":43.5,"v":0.0150},{"s":"B4","t":45.1,"v":0.0147},{"s":"B4","t":46.5,"v":0.0143},{"s":"B4","t":47.9,"v":0.0138},
      {"s":"B4","t":49.4,"v":0.0142},{"s":"B4","t":50.8,"v":0.0146},{"s":"B4","t":52.7,"v":0.0150},{"s":"B4","t":54.8,"v":0.0147},{"s":"B4","t":56.2,"v":0.0143},{"s":"B4","t":57.7,"v":0.0138},
      {"s":"B4","t":59.0,"v":0.0142},{"s":"B4","t":60.4,"v":0.0146},{"s":"B4","t":62.3,"v":0.0150},{"s":"B4","t":63.9,"v":0.0147},{"s":"B4","t":65.3,"v":0.0143},{"s":"B4","t":66.6,"v":0.0139},
      {"s":"B4","t":68.0,"v":0.0142},{"s":"B4","t":69.4,"v":0.0146},{"s":"B4","t":71.3,"v":0.0150},{"s":"B4","t":73.2,"v":0.0147},{"s":"B4","t":74.6,"v":0.0143},{"s":"B4","t":76.0,"v":0.0138},
      {"s":"B4","t":77.4,"v":0.0142},{"s":"B4","t":78.8,"v":0.0146},{"s":"B4","t":80.6,"v":0.0150},{"s":"B4","t":82.5,"v":0.0147},{"s":"B4","t":83.9,"v":0.0143},{"s":"B4","t":85.3,"v":0.0139},
      {"s":"B4","t":86.7,"v":0.0142},{"s":"B4","t":88.1,"v":0.0146},{"s":"B4","t":89.8,"v":0.0150},{"s":"B4","t":91.9,"v":0.0147},{"s":"B4","t":93.3,"v":0.0143},{"s":"B4","t":94.7,"v":0.0138},
      {"s":"B4","t":96.2,"v":0.0142},{"s":"B4","t":97.6,"v":0.0146},{"s":"B4","t":99.5,"v":0.0150},{"s":"B4","t":101.6,"v":0.0147},{"s":"B4","t":103.0,"v":0.0143},{"s":"B4","t":104.5,"v":0.0138},
      {"s":"B4","t":105.8,"v":0.0142},{"s":"B4","t":107.2,"v":0.0146},{"s":"B4","t":109.0,"v":0.0150},{"s":"B4","t":110.7,"v":0.0147},{"s":"B4","t":112.1,"v":0.0143},{"s":"B4","t":113.4,"v":0.0137},
      {"s":"B4","t":113.8,"v":0.0148}
    ]
  },
  "hconcat": [
    {
      "width": 1149,
      "height": 895,
      "data": {"name": "A"},
      "title": {"text": "(a)", "orient": "bottom", "anchor": "middle", "frame": "group", "offset": 88, "dx": -161, "font": "Liberation Serif", "fontSize": 78, "fontWeight": "normal", "color": "black"},
      "mark": {"type": "line", "strokeWidth": 12, "interpolate": "monotone", "strokeCap": "round", "strokeJoin": "round"},
      "encoding": {
        "x": {"field": "t", "type": "quantitative", "title": "Time (s)",
              "scale": {"domain": [0, 130], "nice": false, "zero": false},
              "axis": {"values": [0, 25, 50, 75, 100, 125], "format": "d", "labelPadding": 32, "titlePadding": 38, "titleFontSize": 83}},
        "y": {"field": "v", "type": "quantitative", "title": "Dynamic Responses (V/kN)",
              "scale": {"domain": [0.01, 0.03], "nice": false, "zero": false},
              "axis": {"values": [0.01, 0.015, 0.02, 0.025, 0.03], "format": "~g", "labelPadding": 45, "titleX": -318, "titleY": 539, "titleBaseline": "middle", "titleFontSize": 78}},
        "color": {"field": "s", "type": "nominal",
                  "scale": {"domain": ["A1","A2","A3","A4","A5","A6"], "range": ["#5B9BD5","#ED7D31","#A5A5A5","#FFC000","#4472C4","#70AD47"]},
                  "legend": {"title": null, "orient": "none", "legendX": -253, "legendY": 1136, "direction": "horizontal", "columns": 3,
                             "symbolType": "M-2,0H2", "symbolSize": 7482, "symbolStrokeWidth": 12, "labelOffset": 45,
                             "columnPadding": 284, "rowPadding": 6, "padding": 0,
                             "labelFont": "Liberation Sans", "labelFontWeight": "bold", "labelFontSize": 66, "labelColor": "#595959", "labelLimit": 400}}
      }
    },
    {
      "width": 1119,
      "height": 900,
      "data": {"name": "B"},
      "title": {"text": "(b)", "orient": "bottom", "anchor": "middle", "frame": "group", "offset": 118, "dx": -175, "font": "Liberation Serif", "fontSize": 78, "fontWeight": "normal", "color": "black"},
      "mark": {"type": "line", "strokeWidth": 12, "interpolate": "monotone", "strokeCap": "round", "strokeJoin": "round"},
      "encoding": {
        "x": {"field": "t", "type": "quantitative", "title": "Time (s)",
              "scale": {"domain": [0, 130], "nice": false, "zero": false},
              "axis": {"values": [0, 25, 50, 75, 100, 125], "format": "d", "labelPadding": 32, "titlePadding": 38, "titleFontSize": 83}},
        "y": {"field": "v", "type": "quantitative", "title": "Dynamic Responses (V/kN)",
              "scale": {"domain": [0, 0.025], "nice": false, "zero": false},
              "axis": {"values": [0, 0.005, 0.01, 0.015, 0.02, 0.025], "format": "~g", "labelPadding": 45, "titleX": -317, "titleY": 565, "titleBaseline": "middle", "titleFontSize": 78}},
        "color": {"field": "s", "type": "nominal",
                  "scale": {"domain": ["B1","B2","B3","B4"], "range": ["#5B9BD5","#ED7D31","#FFC000","#4472C4"]},
                  "legend": {"title": null, "orient": "none", "legendX": -204, "legendY": 1203, "direction": "horizontal", "columns": 4,
                             "symbolType": "M-2,0H2", "symbolSize": 7482, "symbolStrokeWidth": 12, "labelOffset": 45,
                             "columnPadding": 40, "rowPadding": 6, "padding": 0,
                             "labelFont": "Liberation Sans", "labelFontWeight": "bold", "labelFontSize": 66, "labelColor": "#595959", "labelLimit": 400}}
      }
    }
  ],
  "resolve": {"scale": {"x": "independent", "y": "independent", "color": "independent"}, "legend": {"color": "independent"}, "axis": {"x": "independent", "y": "independent"}},
  "config": {
    "view": {"stroke": "black", "strokeWidth": 7},
    "axis": {"domainColor": "black", "domainWidth": 7, "tickColor": "black", "tickWidth": 7, "tickSize": 24, "grid": false,
             "labelFont": "Liberation Sans", "labelFontWeight": "bold", "labelFontSize": 73, "labelColor": "#595959",
             "labelFlush": false, "labelOverlap": false, "labelLimit": 400,
             "titleFont": "Liberation Sans", "titleFontWeight": "bold", "titleFontSize": 81, "titleColor": "#595959"}
  }
}
